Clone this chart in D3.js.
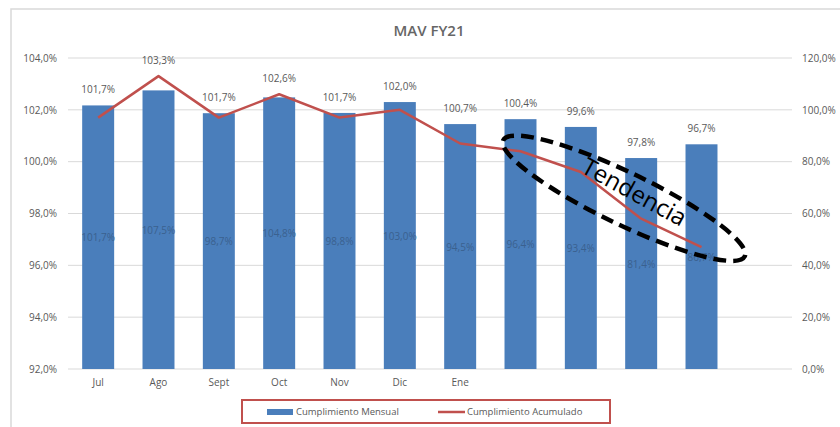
<!DOCTYPE html>
<html>
<head>
<meta charset="utf-8">
<script src="https://cdn.jsdelivr.net/npm/d3@7"></script>
<style>
  body { margin: 0; background: #fff; }
  text { font-family: "Open Sans", "Liberation Sans", sans-serif; }
</style>
</head>
<body>
<div id="chart-area"></div>
<script>
// data
const months = ['Jul', 'Ago', 'Sept', 'Oct', 'Nov', 'Dic', 'Ene', 'Feb', 'Mar', 'Abr', 'May', 'Jun'];
const axisLabels = ['Jul', 'Ago', 'Sept', 'Oct', 'Nov', 'Dic', 'Ene', '', '', '', '', ''];
const mensual = [101.7, 107.5, 98.7, 104.8, 98.8, 103.0, 94.5, 96.4, 93.4, 81.4, 86.7];
const acumulado = [101.7, 103.3, 101.7, 102.6, 101.7, 102.0, 100.7, 100.4, 99.6, 97.8, 96.7];
const leftTicks = [92, 94, 96, 98, 100, 102, 104];
const rightTicks = [0, 20, 40, 60, 80, 100, 120];

const W = 840, H = 427;
const margin = {left: 68, right: 48, top: 58, bottom: 58};
const width = W - margin.left - margin.right,
    height = H - margin.top - margin.bottom;

const gray = '#595959';
const fmt = d => d.toFixed(1).replace('.', ',') + '%';

const svg = d3.select('#chart-area')
    .append('svg')
    .attr('width', W)
    .attr('height', H);

// chart frame
svg.append('rect')
    .attr('x', 11).attr('y', 9)
    .attr('width', W).attr('height', H)
    .attr('fill', '#fff')
    .attr('stroke', '#d9d9d9')
    .attr('stroke-width', 1.5);

svg.append('text')
    .text('MAV FY21')
    .attr('x', 429).attr('y', 36)
    .attr('text-anchor', 'middle')
    .attr('font-size', '15px')
    .attr('font-weight', 600)
    .attr('fill', '#666');

const g = svg.append('g')
    .attr('transform', 'translate(' + margin.left + ', ' + margin.top + ')');

const x = d3.scaleBand()
    .domain(d3.range(months.length))
    .range([0, width])
    .paddingInner(0.47)
    .paddingOuter(0.235);

const yLeft = d3.scaleLinear().domain([92, 104]).range([height, 0]);
const yRight = d3.scaleLinear().domain([0, 120]).range([height, 0]);

// gridlines
g.append('g')
    .selectAll('line')
    .data(leftTicks)
    .enter().append('line')
    .attr('x1', 0).attr('x2', width)
    .attr('y1', d => yLeft(d)).attr('y2', d => yLeft(d))
    .attr('stroke', '#d9d9d9')
    .attr('stroke-width', 1);

const leftAxis = g.append('g')
    .call(d3.axisLeft(yLeft).tickValues(leftTicks).tickFormat(fmt).tickSize(0).tickPadding(11));
const rightAxis = g.append('g')
    .attr('transform', 'translate(' + width + ', 0)')
    .call(d3.axisRight(yRight).tickValues(rightTicks).tickFormat(fmt).tickSize(0).tickPadding(10));
const xAxis = g.append('g')
    .attr('transform', 'translate(0, ' + height + ')')
    .call(d3.axisBottom(x).tickFormat(i => axisLabels[i]).tickSize(0).tickPadding(10));

[leftAxis, rightAxis, xAxis].forEach(a => {
    a.select('.domain').remove();
    a.selectAll('text')
        .attr('fill', gray)
        .attr('font-size', '10px')
        .attr('font-family', '"Open Sans", sans-serif');
});

// bars (right axis)
const bw = x.bandwidth();
g.selectAll('rect.bar')
    .data(mensual)
    .enter().append('rect')
    .attr('class', 'bar')
    .attr('x', (d, i) => x(i))
    .attr('y', d => yRight(d))
    .attr('width', bw)
    .attr('height', d => height - yRight(d))
    .attr('fill', '#4a7ebb');

g.selectAll('text.barlab')
    .data(mensual)
    .enter().append('text')
    .attr('class', 'barlab')
    .text(fmt)
    .attr('x', (d, i) => x(i) + bw / 2)
    .attr('y', d => (yRight(d) + height) / 2 + 4)
    .attr('text-anchor', 'middle')
    .attr('font-size', '10px')
    .attr('fill', '#3a618f');

// line (left axis)
const line = d3.line()
    .x((d, i) => x(i) + bw / 2)
    .y(d => yLeft(d));

g.append('path')
    .datum(acumulado)
    .attr('d', line)
    .attr('fill', 'none')
    .attr('stroke', '#c0504d')
    .attr('stroke-width', 2.5)
    .attr('stroke-linejoin', 'round');

g.selectAll('text.linelab')
    .data(acumulado)
    .enter().append('text')
    .attr('class', 'linelab')
    .text(fmt)
    .attr('x', (d, i) => x(i) + bw / 2)
    .attr('y', (d, i) => Math.min(yLeft(d), yRight(mensual[i])) - 12)
    .attr('text-anchor', 'middle')
    .attr('font-size', '10px')
    .attr('fill', gray);

// annotation: Tendencia, wrapped round the last part of the line
const cx = (x(7) + x(10)) / 2 + bw / 2 + 13,
    cy = (yLeft(acumulado[7]) + yLeft(acumulado[10])) / 2 - 1;
const ann = g.append('g')
    .attr('transform', 'translate(' + cx + ',' + cy + ') rotate(25.7)');
ann.append('ellipse')
    .attr('rx', 134).attr('ry', 26)
    .attr('fill', 'none')
    .attr('stroke', '#000')
    .attr('stroke-width', 4.5)
    .attr('stroke-dasharray', '13,7');
ann.append('text')
    .text('Tendencia')
    .attr('x', 6).attr('y', -2)
    .attr('transform', 'rotate(3)')
    .attr('text-anchor', 'middle')
    .attr('font-size', '24px')
    .attr('fill', '#000');

// legend
const lg = svg.append('g');
lg.append('rect')
    .attr('x', 242).attr('y', 400)
    .attr('width', 368).attr('height', 23)
    .attr('fill', '#fff')
    .attr('stroke', '#c0504d')
    .attr('stroke-width', 2);
lg.append('rect')
    .attr('x', 267).attr('y', 409)
    .attr('width', 26).attr('height', 6)
    .attr('fill', '#4a7ebb');
lg.append('text')
    .text('Cumplimiento Mensual')
    .attr('x', 296).attr('y', 415)
    .attr('font-size', '9.5px')
    .attr('fill', gray);
lg.append('line')
    .attr('x1', 438).attr('x2', 465)
    .attr('y1', 412).attr('y2', 412)
    .attr('stroke', '#c0504d')
    .attr('stroke-width', 2.5);
lg.append('text')
    .text('Cumplimiento Acumulado')
    .attr('x', 467).attr('y', 415)
    .attr('font-size', '9.5px')
    .attr('fill', gray);
</script>
</body>
</html>
